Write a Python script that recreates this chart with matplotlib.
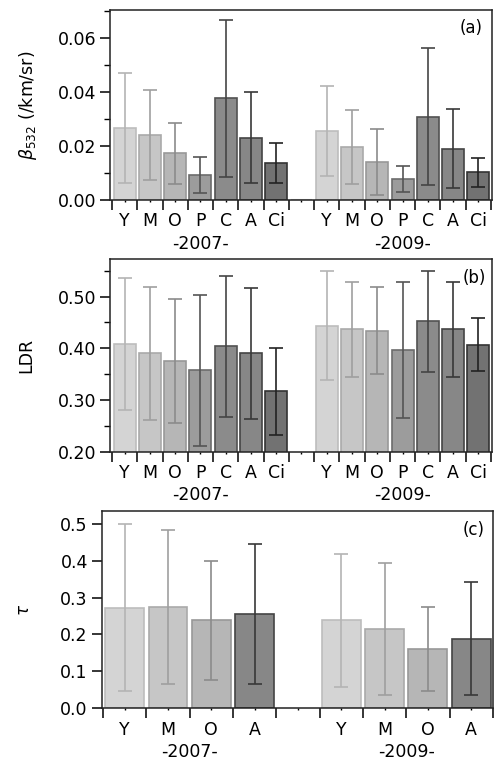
import numpy as np
import matplotlib
matplotlib.use("Agg")
import matplotlib.pyplot as plt

plt.rcParams['font.family'] = ['DejaVu Sans']
plt.rcParams['mathtext.fontset'] = 'dejavusans'

# cloud-type categories
types7 = ['Y', 'M', 'O', 'P', 'C', 'A', 'Ci']
types4 = ['Y', 'M', 'O', 'A']

# (a) backscatter coefficient at 532 nm, mean and std
beta_2007 = [0.0268, 0.0241, 0.0173, 0.0093, 0.0377, 0.0231, 0.0138]
beta_2007_sd = [0.0204, 0.0167, 0.0112, 0.0066, 0.0290, 0.0169, 0.0075]
beta_2009 = [0.0257, 0.0197, 0.0141, 0.0077, 0.0309, 0.0190, 0.0103]
beta_2009_sd = [0.0167, 0.0136, 0.0124, 0.0049, 0.0254, 0.0146, 0.0053]

# (b) linear depolarization ratio
ldr_2007 = [0.408, 0.390, 0.376, 0.358, 0.404, 0.390, 0.317]
ldr_2007_sd = [0.127, 0.128, 0.120, 0.146, 0.136, 0.126, 0.084]
ldr_2009 = [0.444, 0.437, 0.434, 0.397, 0.452, 0.437, 0.407]
ldr_2009_sd = [0.105, 0.092, 0.084, 0.131, 0.097, 0.092, 0.051]

# (c) optical depth
tau_2007 = [0.273, 0.274, 0.238, 0.256]
tau_2007_sd = [0.227, 0.208, 0.162, 0.189]
tau_2009 = [0.239, 0.215, 0.161, 0.189]
tau_2009_sd = [0.180, 0.180, 0.114, 0.152]

years = ['-2007-', '-2009-']

face = {'Y': '#d4d4d4', 'M': '#c6c6c6', 'O': '#b6b6b6', 'P': '#9c9c9c',
        'C': '#8b8b8b', 'A': '#878787', 'Ci': '#727272'}
edge = {'Y': '#bdbdbd', 'M': '#aaaaaa', 'O': '#989898', 'P': '#6c6c6c',
        'C': '#525252', 'A': '#444444', 'Ci': '#333333'}
errc = {'Y': '#b4b4b4', 'M': '#9f9f9f', 'O': '#8b8b8b', 'P': '#555555',
        'C': '#454545', 'A': '#383838', 'Ci': '#222222'}

FS = 12.5


def panel(ax, types, v1, s1, v2, s2, width, gap_bar=False):
    n = len(types)
    pos1 = np.arange(n)
    pos2 = np.arange(n) + n + 1
    for pos, vals, sds in ((pos1, v1, s1), (pos2, v2, s2)):
        for x, t, v, s in zip(pos, types, vals, sds):
            ax.bar(x, v, width=width, color=face[t], edgecolor=edge[t],
                   linewidth=1.2, zorder=2)
            ax.errorbar(x, v, yerr=s, fmt='none', ecolor=errc[t],
                        elinewidth=1.2, capsize=5, capthick=1.2, zorder=3)
    if gap_bar:
        ax.bar(n, 0, width=width, color='#d0d0d0', edgecolor='#c8c8c8',
               linewidth=1.5, zorder=2)
    total = 2 * n + 1
    # boundaries get the long ticks, centres carry the type labels
    ax.set_xticks(np.arange(-0.5, total))
    ax.set_xticklabels([])
    ax.set_xticks(np.arange(total), minor=True)
    ax.set_xticklabels(types + [''] + types, minor=True, fontsize=FS)
    ax.tick_params(axis='x', which='major', length=7.5, width=1.1, direction='out')
    ax.tick_params(axis='x', which='minor', length=1.5, width=1.0, pad=7.5)
    ax.tick_params(axis='y', which='major', length=7.5, width=1.1, pad=2.5,
                   labelsize=FS)
    ax.tick_params(axis='y', which='minor', length=4, width=1.0)
    for sp in ax.spines.values():
        sp.set_linewidth(1.1)
        sp.set_color('#222222')
    for centre, yr in ((pos1.mean(), years[0]), (pos2.mean(), years[1])):
        ax.annotate(yr, xy=(centre, 0), xycoords=('data', 'axes fraction'),
                    xytext=(0, -25), textcoords='offset points',
                    ha='center', va='top', fontsize=FS)


fig = plt.figure(figsize=(4.95, 7.61), dpi=100)
ax_a = fig.add_axes([0.2222, 0.7372, 0.7717, 0.2497])
ax_b = fig.add_axes([0.2222, 0.4064, 0.7717, 0.2528])
ax_c = fig.add_axes([0.2055, 0.0693, 0.7911, 0.2593])

panel(ax_a, types7, beta_2007, beta_2007_sd, beta_2009, beta_2009_sd, 0.87, gap_bar=True)
ax_a.set_xlim(-0.58, 14.54)
ax_a.set_ylim(0, 0.0705)
ax_a.set_yticks([0, 0.02, 0.04, 0.06])
ax_a.set_yticklabels(['0.00', '0.02', '0.04', '0.06'])
ax_a.set_yticks([0.01, 0.03, 0.05, 0.07], minor=True)
ax_a.set_ylabel(r'$\beta_{532}$ (/km/sr)', fontsize=12.5)
ax_a.yaxis.set_label_coords(-0.185, 0.5)
ax_a.text(0.975, 0.905, '(a)', transform=ax_a.transAxes, ha='right', va='center', fontsize=12)

panel(ax_b, types7, ldr_2007, ldr_2007_sd, ldr_2009, ldr_2009_sd, 0.87)
ax_b.set_xlim(-0.58, 14.54)
ax_b.set_ylim(0.2, 0.572)
ax_b.set_yticks([0.2, 0.3, 0.4, 0.5])
ax_b.set_yticklabels(['0.20', '0.30', '0.40', '0.50'])
ax_b.set_yticks([0.25, 0.35, 0.45, 0.55], minor=True)
ax_b.set_ylabel('LDR', fontsize=12.5, family=['Liberation Sans Narrow', 'DejaVu Sans'])
ax_b.yaxis.set_label_coords(-0.195, 0.5)
ax_b.text(0.985, 0.905, '(b)', transform=ax_b.transAxes, ha='right', va='center', fontsize=12)

panel(ax_c, types4, tau_2007, tau_2007_sd, tau_2009, tau_2009_sd, 0.9)
ax_c.set_xlim(-0.53, 8.51)
ax_c.set_ylim(0, 0.535)
ax_c.set_yticks([0, 0.1, 0.2, 0.3, 0.4, 0.5])
ax_c.set_yticklabels(['0.0', '0.1', '0.2', '0.3', '0.4', '0.5'])
ax_c.set_ylabel(r'$\tau$', fontsize=12)
ax_c.yaxis.set_label_coords(-0.175, 0.5)
ax_c.text(0.978, 0.905, '(c)', transform=ax_c.transAxes, ha='right', va='center', fontsize=12)

fig.savefig('out.png', dpi=100)
